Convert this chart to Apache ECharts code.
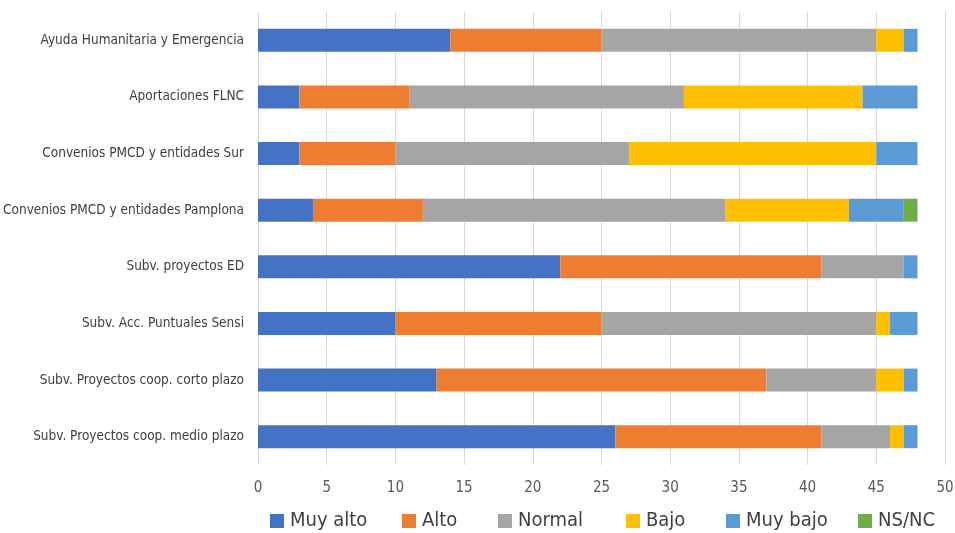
<!DOCTYPE html>
<html><head><meta charset="utf-8">
<script src="https://cdn.jsdelivr.net/npm/echarts@6/dist/echarts.min.js"></script>
<style>html,body{margin:0;padding:0;background:#fff}#c{width:955px;height:533px}</style>
</head><body><div id="c"></div>
<script>
var categories = ["Ayuda Humanitaria y Emergencia","Aportaciones FLNC","Convenios PMCD y entidades Sur","Convenios PMCD y entidades Pamplona","Subv. proyectos ED","Subv. Acc. Puntuales Sensi","Subv. Proyectos coop. corto plazo","Subv. Proyectos coop. medio plazo"];
var seriesNames = ["Muy alto","Alto","Normal","Bajo","Muy bajo","NS/NC"];
var muyAlto = [14,3,3,4,22,10,13,26];
var alto    = [11,8,7,8,19,15,24,15];
var normal  = [20,20,17,22,6,20,8,5];
var bajo    = [2,13,18,9,0,1,2,1];
var muyBajo = [1,4,3,4,1,2,1,1];
var nsnc    = [0,0,0,1,0,0,0,0];
var colors = ["#4472C4","#ED7D31","#A5A5A5","#FFC000","#5B9BD5","#70AD47"];
var values = [muyAlto, alto, normal, bajo, muyBajo, nsnc];
var legendLeft = [270, 402, 498, 626, 726, 858];
var font = "'DejaVu Sans Condensed', sans-serif";
var chart = echarts.init(document.getElementById('c'));
chart.setOption({
  animation:false,
  color: colors,
  grid:{left:258, right:10, top:12, bottom:68, outerBoundsMode:'none', containLabel:false},
  legend: seriesNames.map(function(n,i){
    return {top:511, left:legendLeft[i], padding:0, itemWidth:14, itemHeight:14, icon:'rect', itemGap:0,
      textStyle:{fontFamily:font, fontSize:20, color:'#404040', padding:[0,0,0,1]},
      data:[n]};
  }),
  xAxis:{type:'value', min:0, max:50, interval:5,
    axisLine:{show:false}, axisTick:{show:false},
    splitLine:{lineStyle:{color:'#D9D9D9'}},
    axisLabel:{fontFamily:font, fontSize:15, color:'#595959', margin:16}},
  yAxis:{type:'category', data:categories, inverse:true,
    axisLine:{show:false}, axisTick:{show:false},
    axisLabel:{fontFamily:font, fontSize:13.5, color:'#404040', margin:14}},
  series: seriesNames.map(function(n,i){
    return {name:n, type:'bar', stack:'t', barWidth:23, data:values[i]};
  })
});
</script></body></html>
